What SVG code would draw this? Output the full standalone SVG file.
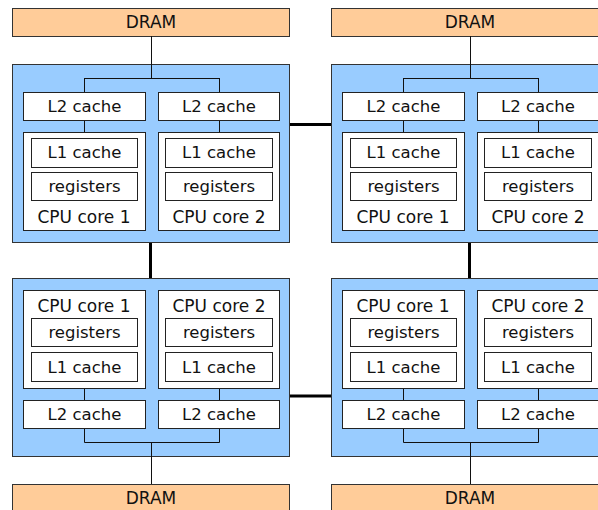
<svg xmlns="http://www.w3.org/2000/svg" width="598" height="510" viewBox="0 0 598 510">
  <style>
    .dram { fill: #ffcc99; stroke: #333; stroke-width: 1; }
    .pkg { fill: #99ccff; stroke: #333; stroke-width: 1; }
    .box { fill: #ffffff; stroke: #222; stroke-width: 1; }
    text { font-family: "DejaVu Sans", Verdana, sans-serif; font-size: 16.5px; fill: #111; text-anchor: middle; }
    .big { font-size: 17px; }
    .thin { fill: none; stroke: #111; stroke-width: 1; }
    .bus { fill: none; stroke: #000; stroke-width: 3; }
  </style>
  <rect width="598" height="510" fill="#ffffff"/>

  <!-- interconnects between packages -->
  <g id="bus-links">
    <path class="bus" d="M289,124.5 H331"/>
    <path class="bus" d="M289,396 H331"/>
    <path class="bus" d="M150.5,242 V278"/>
    <path class="bus" d="M469.5,242 V278"/>
  </g>

  <!-- memory banks -->
  <g id="dram-tl"><rect class="dram" x="12.5" y="8.5" width="277" height="28"/><text class="big" x="151" y="28">DRAM</text></g>
  <g id="dram-tr"><rect class="dram" x="331.5" y="8.5" width="277" height="28"/><text class="big" x="470" y="28">DRAM</text></g>
  <g id="dram-bl"><rect class="dram" x="12.5" y="484.5" width="277" height="28"/><text class="big" x="151" y="504">DRAM</text></g>
  <g id="dram-br"><rect class="dram" x="331.5" y="484.5" width="277" height="28"/><text class="big" x="470" y="504">DRAM</text></g>

  <!-- package backgrounds -->
  <g id="pkg-tl"><rect class="pkg" x="12.5" y="64.5" width="277" height="178"/></g>
  <g id="pkg-tr"><rect class="pkg" x="331.5" y="64.5" width="277" height="178"/></g>
  <g id="pkg-bl"><rect class="pkg" x="12.5" y="278.5" width="277" height="178"/></g>
  <g id="pkg-br"><rect class="pkg" x="331.5" y="278.5" width="277" height="178"/></g>

  <!-- internal wiring -->
  <g id="connectors">
    <path class="thin" d="M151.5,36 V78.5 M84.5,78.5 H219.5 M84.5,78 V92 M219.5,78 V92 M84.5,120 V132 M219.5,120 V132"/>
    <path class="thin" d="M470.5,36 V78.5 M403.5,78.5 H538.5 M403.5,78 V92 M538.5,78 V92 M403.5,120 V132 M538.5,120 V132"/>
    <path class="thin" d="M84.5,388 V400 M219.5,388 V400 M84.5,428 V442.5 H219.5 V428 M151.5,442 V484"/>
    <path class="thin" d="M403.5,388 V400 M538.5,388 V400 M403.5,428 V442.5 H538.5 V428 M470.5,442 V484"/>
  </g>

  <!-- top-left package -->
  <g id="tl-l2-1"><rect class="box" x="23.5" y="92.5" width="122" height="28"/><text x="84.5" y="112">L2 cache</text></g>
  <g id="tl-l2-2"><rect class="box" x="158.5" y="92.5" width="121" height="28"/><text x="219" y="112">L2 cache</text></g>
  <g id="tl-core-1">
    <rect class="box" x="23.5" y="132.5" width="122" height="98"/>
    <rect class="box" x="31.5" y="138.5" width="106" height="29"/><text x="84.5" y="158">L1 cache</text>
    <rect class="box" x="31.5" y="172.5" width="106" height="28"/><text x="84.5" y="192">registers</text>
    <text class="big" x="84" y="222.5">CPU core 1</text>
  </g>
  <g id="tl-core-2">
    <rect class="box" x="158.5" y="132.5" width="121" height="98"/>
    <rect class="box" x="165.5" y="138.5" width="107" height="29"/><text x="219" y="158">L1 cache</text>
    <rect class="box" x="165.5" y="172.5" width="107" height="28"/><text x="219" y="192">registers</text>
    <text class="big" x="219" y="222.5">CPU core 2</text>
  </g>

  <!-- top-right package -->
  <g id="tr-l2-1"><rect class="box" x="342.5" y="92.5" width="122" height="28"/><text x="403.5" y="112">L2 cache</text></g>
  <g id="tr-l2-2"><rect class="box" x="477.5" y="92.5" width="121" height="28"/><text x="538" y="112">L2 cache</text></g>
  <g id="tr-core-1">
    <rect class="box" x="342.5" y="132.5" width="122" height="98"/>
    <rect class="box" x="350.5" y="138.5" width="106" height="29"/><text x="403.5" y="158">L1 cache</text>
    <rect class="box" x="350.5" y="172.5" width="106" height="28"/><text x="403.5" y="192">registers</text>
    <text class="big" x="403" y="222.5">CPU core 1</text>
  </g>
  <g id="tr-core-2">
    <rect class="box" x="477.5" y="132.5" width="121" height="98"/>
    <rect class="box" x="484.5" y="138.5" width="107" height="29"/><text x="538" y="158">L1 cache</text>
    <rect class="box" x="484.5" y="172.5" width="107" height="28"/><text x="538" y="192">registers</text>
    <text class="big" x="538" y="222.5">CPU core 2</text>
  </g>

  <!-- bottom-left package -->
  <g id="bl-core-1">
    <rect class="box" x="23.5" y="290.5" width="122" height="98"/>
    <text class="big" x="84" y="312">CPU core 1</text>
    <rect class="box" x="31.5" y="318.5" width="106" height="28"/><text x="84.5" y="338">registers</text>
    <rect class="box" x="31.5" y="352.5" width="106" height="29"/><text x="84.5" y="373">L1 cache</text>
  </g>
  <g id="bl-core-2">
    <rect class="box" x="158.5" y="290.5" width="121" height="98"/>
    <text class="big" x="219" y="312">CPU core 2</text>
    <rect class="box" x="165.5" y="318.5" width="107" height="28"/><text x="219" y="338">registers</text>
    <rect class="box" x="165.5" y="352.5" width="107" height="29"/><text x="219" y="373">L1 cache</text>
  </g>
  <g id="bl-l2-1"><rect class="box" x="23.5" y="400.5" width="122" height="28"/><text x="84.5" y="420">L2 cache</text></g>
  <g id="bl-l2-2"><rect class="box" x="158.5" y="400.5" width="121" height="28"/><text x="219" y="420">L2 cache</text></g>

  <!-- bottom-right package -->
  <g id="br-core-1">
    <rect class="box" x="342.5" y="290.5" width="122" height="98"/>
    <text class="big" x="403" y="312">CPU core 1</text>
    <rect class="box" x="350.5" y="318.5" width="106" height="28"/><text x="403.5" y="338">registers</text>
    <rect class="box" x="350.5" y="352.5" width="106" height="29"/><text x="403.5" y="373">L1 cache</text>
  </g>
  <g id="br-core-2">
    <rect class="box" x="477.5" y="290.5" width="121" height="98"/>
    <text class="big" x="538" y="312">CPU core 2</text>
    <rect class="box" x="484.5" y="318.5" width="107" height="28"/><text x="538" y="338">registers</text>
    <rect class="box" x="484.5" y="352.5" width="107" height="29"/><text x="538" y="373">L1 cache</text>
  </g>
  <g id="br-l2-1"><rect class="box" x="342.5" y="400.5" width="122" height="28"/><text x="403.5" y="420">L2 cache</text></g>
  <g id="br-l2-2"><rect class="box" x="477.5" y="400.5" width="121" height="28"/><text x="538" y="420">L2 cache</text></g>
</svg>
